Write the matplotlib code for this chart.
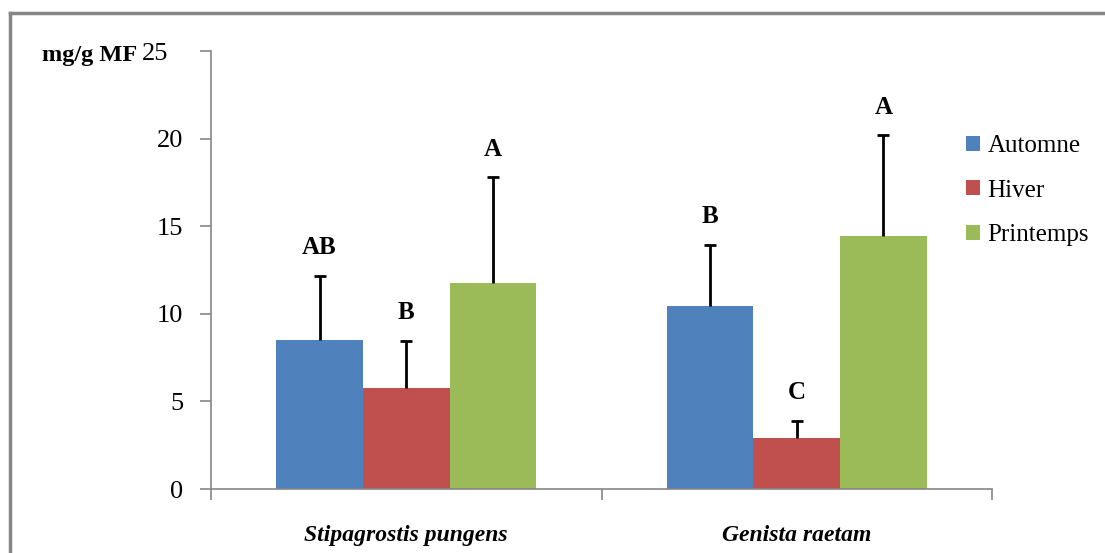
import matplotlib
matplotlib.use("Agg")
import matplotlib.pyplot as plt
import numpy as np
from matplotlib.transforms import ScaledTranslation

especes = ["Stipagrostis pungens", "Genista raetam"]
saisons = ["Automne", "Hiver", "Printemps"]
couleurs = ["#4F81BD", "#C0504D", "#9BBB59"]
moyennes = {
    "Automne": [8.5, 10.45],
    "Hiver": [5.76, 2.91],
    "Printemps": [11.76, 14.44],
}
erreurs = {
    "Automne": [3.66, 3.48],
    "Hiver": [2.69, 0.97],
    "Printemps": [6.04, 5.76],
}
lettres = {
    "Automne": ["AB", "B"],
    "Hiver": ["B", "C"],
    "Printemps": ["A", "A"],
}

plt.rcParams["font.family"] = ["Liberation Serif", "DejaVu Serif"]

fig = plt.figure(figsize=(11.05, 5.53), dpi=100)
ax = fig.add_axes([211 / 1105, 1 - 489 / 553, (992 - 211) / 1105, (489 - 51) / 553])

x = np.arange(len(especes))
larg = 0.222
for i, s in enumerate(saisons):
    pos = x + (i - 1) * larg
    m = np.array(moyennes[s])
    e = np.array(erreurs[s])
    ax.bar(pos, m, width=larg, color=couleurs[i], label=s, zorder=2)
    # barre d'erreur vers le haut seulement, avec un seul chapeau
    ax.errorbar(pos, m, yerr=[np.zeros(len(especes)), e],
                fmt="none", ecolor="black", elinewidth=2, capsize=0, zorder=3)
    ax.plot(pos, m + e, linestyle="none", marker="_", markersize=9, markeredgewidth=2,
            color="black", zorder=3)
    for p, top, l in zip(pos, m + e, lettres[s]):
        ax.text(p, top + 1.6, l, ha="center", va="center", fontsize=18, fontweight="bold")

ax.set_xlim(-0.5, 1.5)
ax.set_ylim(0, 25)
ax.set_yticks(range(0, 26, 5))
ax.set_xticks([-0.5, 0.5, 1.5])
ax.set_xticklabels([])
ax.set_xticks(x, minor=True)
ax.set_xticklabels(especes, minor=True, fontsize=17, fontweight="bold", style="italic")
ax.tick_params(axis="x", which="minor", length=0, pad=26)
ax.tick_params(axis="x", which="major", length=8, width=1.2, color="#868686")
ax.tick_params(axis="y", length=8, width=1.2, color="#868686", labelsize=19, pad=12)
for side in ["top", "right"]:
    ax.spines[side].set_visible(False)
for side in ["left", "bottom"]:
    ax.spines[side].set_color("#868686")
    ax.spines[side].set_linewidth(1.2)

# le "25" est decale a gauche, colle au titre de l'axe
fig.canvas.draw()
lbl = ax.get_yticklabels()[-1]
lbl.set_transform(lbl.get_transform() + ScaledTranslation(-0.15, 0, fig.dpi_scale_trans))

fig.text(42 / 1105, 1 - 55 / 553, "mg/g MF", fontsize=17.5, fontweight="bold", va="center")

ax.legend(loc="upper left", bbox_to_anchor=(956 / 1105, 1 - 125 / 553), bbox_transform=fig.transFigure,
          frameon=False, fontsize=18, handlelength=0.55, handleheight=0.55, handletextpad=0.3,
          labelspacing=0.9, borderaxespad=0)

fig.add_artist(plt.Line2D([10 / 1105, 10 / 1105], [-0.05, 1 - 13 / 553], transform=fig.transFigure,
                          color="#868686", linewidth=2.5))
fig.add_artist(plt.Line2D([10 / 1105, 1.05], [1 - 13 / 553, 1 - 13 / 553], transform=fig.transFigure,
                          color="#868686", linewidth=2.5))

fig.savefig("out.png", dpi=100)
